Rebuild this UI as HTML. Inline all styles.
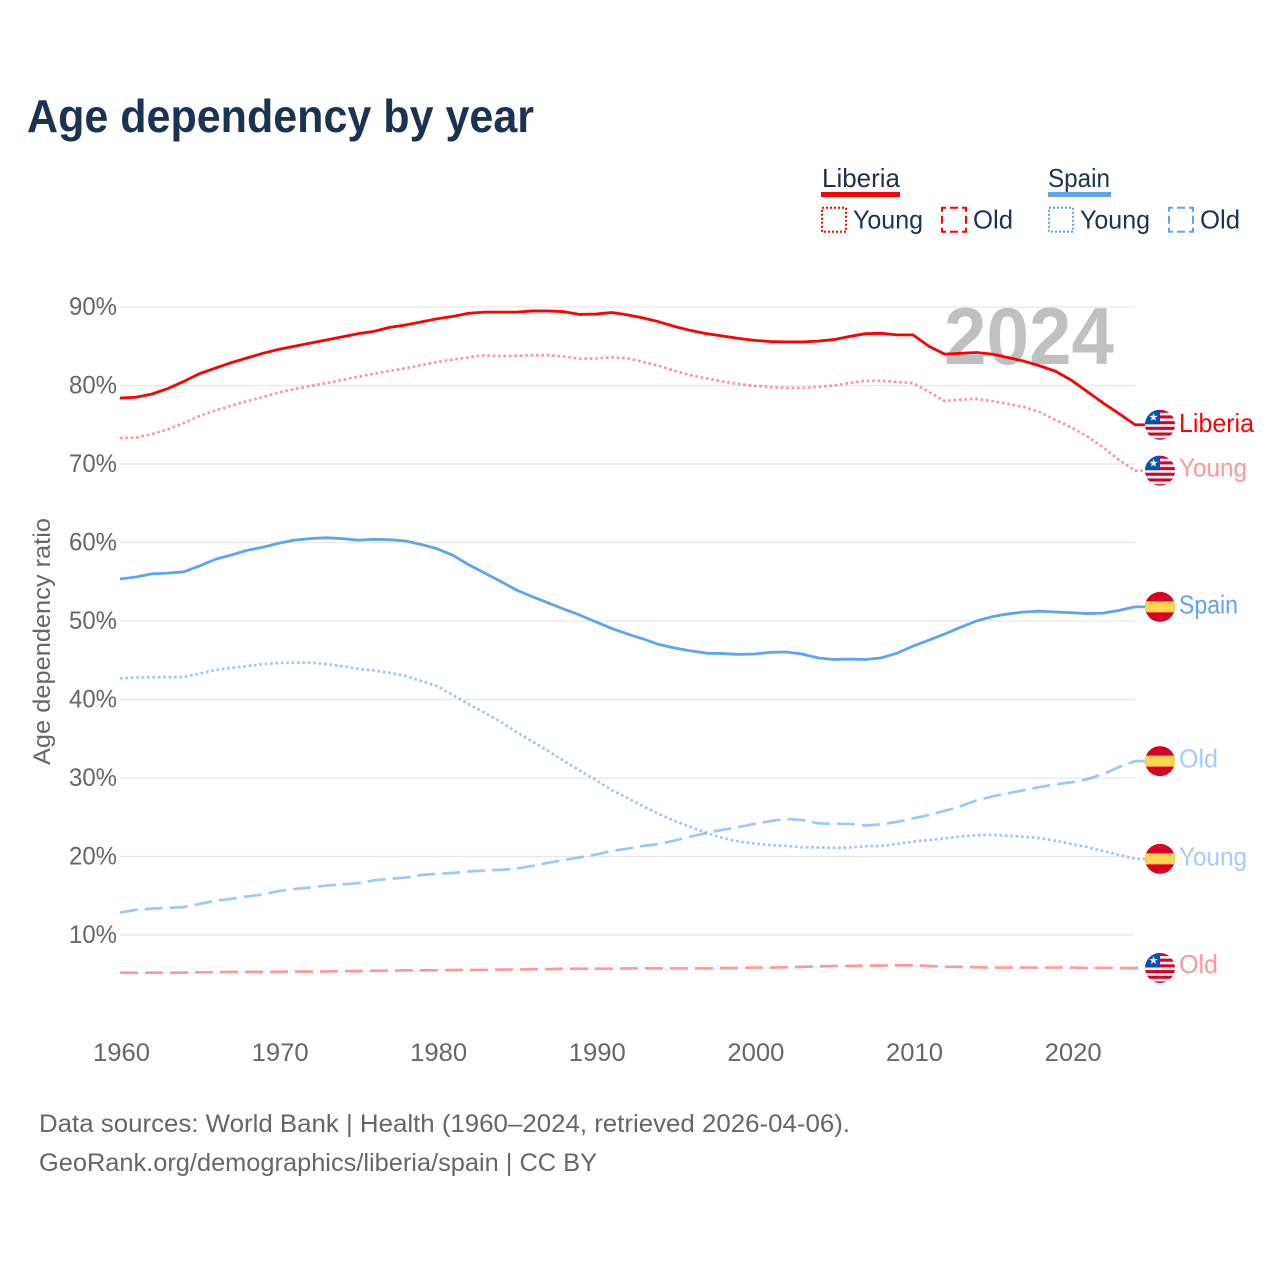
<!DOCTYPE html>
<html lang="en">
<head>
<meta charset="utf-8">
<title>Age dependency by year</title>
<style>
html,body{margin:0;padding:0;background:#fff;}
svg{display:block;}
text{font-family:"Liberation Sans",sans-serif;}
.tick{font-size:25px;fill:#666;}
.leg{font-size:26px;fill:#1a3352;}
.foot{font-size:25px;fill:#666;}
.end{font-size:26px;}
</style>
</head>
<body>
<svg id="chart" width="1280" height="1280" viewBox="0 0 1280 1280" xmlns="http://www.w3.org/2000/svg">
  <defs>
    <clipPath id="flag-clip" clipPathUnits="userSpaceOnUse"><circle cx="0" cy="0" r="15"></circle></clipPath>
  </defs>
  <rect x="0" y="0" width="1280" height="1280" fill="#fff"></rect>
  <text x="27" y="132" font-size="46" font-weight="700" fill="#1a3352" textLength="507" lengthAdjust="spacingAndGlyphs">Age dependency by year</text>

  <g id="grid"></g>
  <text x="944" y="364" font-size="81" font-weight="700" fill="#c0c0c0" textLength="170" lengthAdjust="spacingAndGlyphs">2024</text>
  <g id="yticks"></g>
  <g id="xticks"></g>
  <text transform="translate(50 641.5) rotate(-90)" text-anchor="middle" font-size="24" fill="#666" textLength="247" lengthAdjust="spacingAndGlyphs">Age dependency ratio</text>
  <g id="series"></g>
  <g id="flags"></g>

  <g>
    <text class="leg" x="822" y="187" textLength="78" lengthAdjust="spacingAndGlyphs">Liberia</text>
    <rect x="821" y="192" width="79" height="5" fill="#ff0000"></rect>
    <rect x="822" y="207.7" width="24" height="24" fill="none" stroke="#ff0000" stroke-width="2" stroke-dasharray="2 2"></rect>
    <text class="leg" x="853" y="228.5" textLength="70" lengthAdjust="spacingAndGlyphs">Young</text>
    <rect x="942" y="207.7" width="24" height="24" fill="none" stroke="#ff0000" stroke-width="2" stroke-dasharray="8 4" stroke-dashoffset="4"></rect>
    <text class="leg" x="973" y="228.5" textLength="40" lengthAdjust="spacingAndGlyphs">Old</text>

    <text class="leg" x="1048" y="187" textLength="62" lengthAdjust="spacingAndGlyphs">Spain</text>
    <rect x="1048" y="192" width="63" height="5" fill="#5ea5ee"></rect>
    <rect x="1049" y="207.7" width="24" height="24" fill="none" stroke="#5ea5ee" stroke-width="2" stroke-dasharray="2 2"></rect>
    <text class="leg" x="1080" y="228.5" textLength="70" lengthAdjust="spacingAndGlyphs">Young</text>
    <rect x="1169" y="207.7" width="24" height="24" fill="none" stroke="#5ea5ee" stroke-width="2" stroke-dasharray="8 4" stroke-dashoffset="4"></rect>
    <text class="leg" x="1200" y="228.5" textLength="40" lengthAdjust="spacingAndGlyphs">Old</text>
  </g>

  <g>
    <text class="end" x="1179" y="432" fill="#ff0000" textLength="75" lengthAdjust="spacingAndGlyphs">Liberia</text>
    <text class="end" x="1179" y="476.5" fill="#ff9999" textLength="68" lengthAdjust="spacingAndGlyphs">Young</text>
    <text class="end" x="1179" y="973" fill="#ff9999" textLength="39" lengthAdjust="spacingAndGlyphs">Old</text>
    <text class="end" x="1179" y="613.5" fill="#5ea5ee" textLength="59" lengthAdjust="spacingAndGlyphs">Spain</text>
    <text class="end" x="1179" y="865.5" fill="#a5cbf6" textLength="68" lengthAdjust="spacingAndGlyphs">Young</text>
    <text class="end" x="1179" y="767.5" fill="#a5cbf6" textLength="39" lengthAdjust="spacingAndGlyphs">Old</text>
  </g>

  <text class="foot" x="39" y="1132" textLength="811" lengthAdjust="spacingAndGlyphs">Data sources: World Bank | Health (1960–2024, retrieved 2026-04-06).</text>
  <text class="foot" x="39" y="1171" textLength="558" lengthAdjust="spacingAndGlyphs">GeoRank.org/demographics/liberia/spain | CC BY</text>
</svg>

<script>
var startYear = 1960;
var yTickValues = [10, 20, 30, 40, 50, 60, 70, 80, 90];
var xTickYears = [1960, 1970, 1980, 1990, 2000, 2010, 2020];

var liberiaTotal = [78.4,78.5,78.9,79.6,80.5,81.5,82.2,82.9,83.5,84.1,84.6,85.0,85.4,85.8,86.2,86.6,86.9,87.4,87.7,88.1,88.5,88.8,89.2,89.35,89.35,89.35,89.5,89.5,89.4,89.05,89.1,89.3,89.0,88.6,88.1,87.5,87.0,86.6,86.3,86.0,85.75,85.6,85.55,85.55,85.65,85.85,86.25,86.6,86.65,86.45,86.45,85.0,84.0,84.1,84.2,84.0,83.55,83.1,82.5,81.8,80.65,79.2,77.75,76.4,75.0];
var liberiaYoung = [73.3,73.35,73.8,74.4,75.2,76.1,76.8,77.4,78.0,78.5,79.1,79.55,79.95,80.3,80.7,81.1,81.5,81.85,82.2,82.6,83.0,83.3,83.6,83.85,83.75,83.8,83.85,83.85,83.7,83.4,83.45,83.6,83.45,83.0,82.5,81.85,81.3,80.9,80.5,80.2,79.95,79.8,79.7,79.7,79.8,80.0,80.3,80.6,80.6,80.45,80.3,79.2,78.0,78.2,78.3,78.0,77.65,77.25,76.6,75.6,74.65,73.5,72.1,70.5,69.15];
var liberiaOld = [5.2,5.2,5.2,5.2,5.2,5.25,5.25,5.3,5.3,5.3,5.3,5.35,5.35,5.35,5.4,5.4,5.45,5.45,5.5,5.5,5.5,5.55,5.55,5.55,5.6,5.6,5.65,5.65,5.7,5.7,5.7,5.7,5.75,5.75,5.75,5.75,5.75,5.75,5.8,5.8,5.85,5.85,5.9,5.95,6.0,6.05,6.05,6.1,6.1,6.15,6.15,6.05,5.95,5.95,5.9,5.85,5.85,5.85,5.85,5.85,5.85,5.8,5.8,5.8,5.8];
var spainTotal = [55.35,55.6,56.0,56.1,56.25,57.0,57.85,58.4,59.0,59.4,59.9,60.3,60.5,60.6,60.5,60.3,60.4,60.35,60.2,59.75,59.2,58.35,57.15,56.1,55.05,53.95,53.1,52.3,51.5,50.75,49.9,49.05,48.35,47.7,47.0,46.55,46.2,45.9,45.85,45.75,45.8,46.0,46.05,45.8,45.3,45.1,45.15,45.1,45.3,45.9,46.8,47.55,48.35,49.2,50.0,50.55,50.9,51.15,51.25,51.15,51.05,50.95,51.0,51.35,51.8];
var spainYoung = [42.7,42.8,42.85,42.85,42.85,43.3,43.75,44.0,44.25,44.5,44.65,44.7,44.7,44.5,44.25,43.9,43.7,43.4,43.0,42.35,41.7,40.55,39.4,38.3,37.15,35.85,34.65,33.45,32.15,30.95,29.75,28.45,27.45,26.4,25.4,24.5,23.75,23.0,22.35,21.9,21.65,21.45,21.35,21.2,21.15,21.1,21.15,21.3,21.35,21.6,21.9,22.1,22.3,22.55,22.7,22.75,22.65,22.5,22.35,22.0,21.6,21.2,20.7,20.2,19.7];
var spainOld = [12.85,13.2,13.35,13.45,13.55,13.95,14.35,14.6,14.9,15.15,15.6,15.85,16.05,16.3,16.45,16.6,16.95,17.15,17.3,17.65,17.8,17.9,18.1,18.2,18.3,18.45,18.8,19.2,19.55,19.9,20.25,20.7,21.0,21.35,21.6,22.05,22.55,23.0,23.4,23.75,24.15,24.5,24.8,24.65,24.25,24.15,24.15,23.95,24.1,24.4,24.85,25.3,25.8,26.4,27.15,27.65,28.05,28.45,28.85,29.2,29.45,29.85,30.5,31.4,32.15];

var NS = 'http://www.w3.org/2000/svg';
function xScale(year) { return 120 + (year - startYear) * 15.86; }
function yScale(value) { return 1013.5 - value * 7.85; }
function make(tag, attrs, parent) {
  var el = document.createElementNS(NS, tag);
  for (var k in attrs) { el.setAttribute(k, attrs[k]); }
  parent.appendChild(el);
  return el;
}

var gridGroup = document.getElementById('grid');
var yTickGroup = document.getElementById('yticks');
yTickValues.forEach(function (v) {
  var line = make('line', { x1: 120, x2: 1135, y1: yScale(v), y2: yScale(v), stroke: '#e8e8e8', 'stroke-width': 1.3 }, gridGroup);
  
  
  var label = make('text', { x: 117, y: yScale(v) + 8, 'text-anchor': 'end', 'class': 'tick', textLength: 48, lengthAdjust: 'spacingAndGlyphs' }, yTickGroup);
  label.textContent = v + '%';
  
  
});

var xTickGroup = document.getElementById('xticks');
xTickYears.forEach(function (yr) {
  var label = make('text', { x: xScale(yr) + 1.5, y: 1061, 'text-anchor': 'middle', 'class': 'tick', textLength: 57, lengthAdjust: 'spacingAndGlyphs' }, xTickGroup);
  label.textContent = yr;
  
  
});

function linePath(values) {
  var d = values.map(function (v, i) {
    return (i ? 'L' : 'M') + xScale(startYear + i).toFixed(2) + ' ' + yScale(v).toFixed(2);
  }).join(' ');
  var last = values[values.length - 1];
  return d + ' L' + (xScale(startYear + values.length - 1) + 10) + ' ' + yScale(last).toFixed(2);
}

var seriesGroup = document.getElementById('series');
var seriesList = [
  { name: 'liberia-young', values: liberiaYoung, color: '#ff0000', opacity: 0.4, dash: '2.7 2.7', width: 2.7 },
  { name: 'liberia-old', values: liberiaOld, color: '#ff0000', opacity: 0.4, dash: '18 7', width: 2.7 },
  { name: 'spain-young', values: spainYoung, color: '#5ea5ee', opacity: 0.6, dash: '2.7 2.7', width: 2.7 },
  { name: 'spain-old', values: spainOld, color: '#5ea5ee', opacity: 0.6, dash: '18 7', width: 2.7 },
  { name: 'liberia-total', values: liberiaTotal, color: '#ff0000', opacity: 1, dash: 'none', width: 2.8 },
  { name: 'spain-total', values: spainTotal, color: '#5ea5ee', opacity: 1, dash: 'none', width: 2.8 }
];
seriesList.forEach(function (s) {
  var p = make('path', { d: linePath(s.values), fill: 'none', stroke: s.color, 'stroke-opacity': s.opacity, 'stroke-width': s.width, 'stroke-dasharray': s.dash, 'stroke-linejoin': 'round' }, seriesGroup);
  
  
});

var flagsGroup = document.getElementById('flags');
function starPoints(cx, cy, R) {
  var pts = [];
  for (var i = 0; i < 10; i++) {
    var r = i % 2 ? R * 0.4 : R;
    var a = -Math.PI / 2 + i * Math.PI / 5;
    pts.push((cx + r * Math.cos(a)).toFixed(2) + ',' + (cy + r * Math.sin(a)).toFixed(2));
  }
  return pts.join(' ');
}
function drawFlag(kind, name, values) {
  var cy = yScale(values[values.length - 1]);
  var g = make('g', { transform: 'translate(1160 ' + cy.toFixed(2) + ')' }, flagsGroup);
  
  
  var inner = make('g', { 'clip-path': 'url(#flag-clip)' }, g);
  if (kind === 'spain') {
    make('rect', { x: -15, y: -15, width: 30, height: 30, fill: '#d80027' }, inner);
    make('rect', { x: -15, y: -5.5, width: 30, height: 11, fill: '#ffd34d' }, inner);
  } else {
    make('rect', { x: -15, y: -15, width: 30, height: 30, fill: '#eeeeee' }, inner);
    for (var i = 0; i < 6; i++) {
      make('rect', { x: -15, y: -15 + i * 5.7, width: 30, height: 3, fill: '#d80027' }, inner);
    }
    make('rect', { x: -15, y: -15, width: 15, height: 14.5, fill: '#0052b4' }, inner);
    make('polygon', { points: starPoints(-6.5, -7.5, 4.5), fill: '#eeeeee' }, inner);
  }
}
drawFlag('liberia', 'liberia', liberiaTotal);
drawFlag('liberia', 'liberia-young', liberiaYoung);
drawFlag('liberia', 'liberia-old', liberiaOld);
drawFlag('spain', 'spain', spainTotal);
drawFlag('spain', 'spain-young', spainYoung);
drawFlag('spain', 'spain-old', spainOld);
</script>
</body>
</html>
